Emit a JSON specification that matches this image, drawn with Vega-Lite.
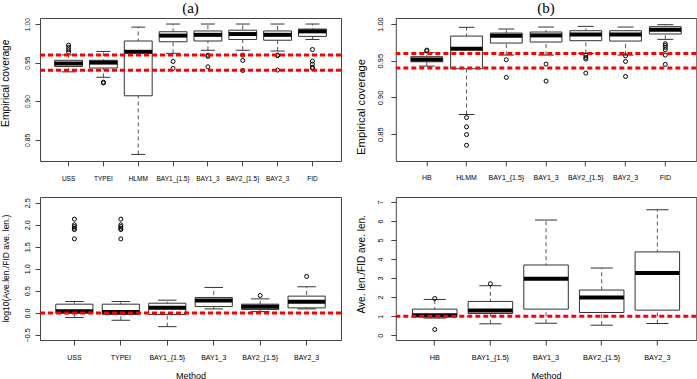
{
  "$schema": "https://vega.github.io/schema/vega-lite/v6.json",
  "background": "white",
  "padding": 0,
  "bounds": "flush",
  "columns": 2,
  "spacing": {"row": 36, "column": 54.8},
  "datasets": {
    "tl_box": [
      {"m": "USS", "lo": 0.938, "q1": 0.945, "med": 0.949, "q3": 0.953, "hi": 0.960},
      {"m": "TYPEI", "lo": 0.931, "q1": 0.943, "med": 0.950, "q3": 0.953, "hi": 0.9645},
      {"m": "HLMM", "lo": 0.831, "q1": 0.907, "med": 0.964, "q3": 0.978, "hi": 0.996},
      {"m": "BAY1_{1.5}", "lo": 0.962, "q1": 0.977, "med": 0.985, "q3": 0.990, "hi": 1.0},
      {"m": "BAY1_3", "lo": 0.966, "q1": 0.978, "med": 0.986, "q3": 0.991, "hi": 1.0},
      {"m": "BAY2_{1.5}", "lo": 0.966, "q1": 0.980, "med": 0.987, "q3": 0.992, "hi": 1.0},
      {"m": "BAY2_3", "lo": 0.965, "q1": 0.979, "med": 0.986, "q3": 0.991, "hi": 1.0},
      {"m": "FID", "lo": 0.980, "q1": 0.984, "med": 0.9905, "q3": 0.9935, "hi": 1.0}
    ],
    "tl_out": [
      {"m": "USS", "v": 0.9727}, {"m": "USS", "v": 0.9697}, {"m": "USS", "v": 0.9667}, {"m": "USS", "v": 0.9636},
      {"m": "TYPEI", "v": 0.9247}, {"m": "TYPEI", "v": 0.9235},
      {"m": "BAY1_{1.5}", "v": 0.9515}, {"m": "BAY1_{1.5}", "v": 0.9424},
      {"m": "BAY1_3", "v": 0.9597}, {"m": "BAY1_3", "v": 0.958}, {"m": "BAY1_3", "v": 0.9446},
      {"m": "BAY2_{1.5}", "v": 0.9597}, {"m": "BAY2_{1.5}", "v": 0.9528}, {"m": "BAY2_{1.5}", "v": 0.9398},
      {"m": "BAY2_3", "v": 0.9597}, {"m": "BAY2_3", "v": 0.959}, {"m": "BAY2_3", "v": 0.9403},
      {"m": "FID", "v": 0.967}, {"m": "FID", "v": 0.952}, {"m": "FID", "v": 0.948}, {"m": "FID", "v": 0.944}, {"m": "FID", "v": 0.9425}
    ],
    "tr_box": [
      {"m": "HB", "lo": 0.9427, "q1": 0.9486, "med": 0.9518, "q3": 0.9555, "hi": 0.961},
      {"m": "HLMM", "lo": 0.8768, "q1": 0.9391, "med": 0.9664, "q3": 0.9836, "hi": 0.9955},
      {"m": "BAY1_{1.5}", "lo": 0.9577, "q1": 0.9741, "med": 0.9841, "q3": 0.9877, "hi": 0.9932},
      {"m": "BAY1_3", "lo": 0.9577, "q1": 0.9755, "med": 0.9845, "q3": 0.9891, "hi": 0.9959},
      {"m": "BAY2_{1.5}", "lo": 0.96, "q1": 0.9773, "med": 0.9859, "q3": 0.9909, "hi": 0.9968},
      {"m": "BAY2_3", "lo": 0.9577, "q1": 0.9768, "med": 0.9859, "q3": 0.9909, "hi": 0.9959},
      {"m": "FID", "lo": 0.9791, "q1": 0.9864, "med": 0.9923, "q3": 0.9964, "hi": 0.9991}
    ],
    "tr_out": [
      {"m": "HB", "v": 0.9645}, {"m": "HB", "v": 0.9635},
      {"m": "HLMM", "v": 0.8727}, {"m": "HLMM", "v": 0.86}, {"m": "HLMM", "v": 0.8495}, {"m": "HLMM", "v": 0.835},
      {"m": "BAY1_{1.5}", "v": 0.9514}, {"m": "BAY1_{1.5}", "v": 0.9273},
      {"m": "BAY1_3", "v": 0.9455}, {"m": "BAY1_3", "v": 0.9223},
      {"m": "BAY2_{1.5}", "v": 0.9577}, {"m": "BAY2_{1.5}", "v": 0.9545}, {"m": "BAY2_{1.5}", "v": 0.9523}, {"m": "BAY2_{1.5}", "v": 0.9332},
      {"m": "BAY2_3", "v": 0.9568}, {"m": "BAY2_3", "v": 0.949}, {"m": "BAY2_3", "v": 0.9286},
      {"m": "FID", "v": 0.9732}, {"m": "FID", "v": 0.9709}, {"m": "FID", "v": 0.9682}, {"m": "FID", "v": 0.965}, {"m": "FID", "v": 0.9577}, {"m": "FID", "v": 0.945}
    ],
    "bl_box": [
      {"m": "USS", "lo": -0.106, "q1": -0.008, "med": 0.04, "q3": 0.198, "hi": 0.258},
      {"m": "TYPEI", "lo": -0.167, "q1": -0.038, "med": 0.02, "q3": 0.198, "hi": 0.258},
      {"m": "BAY1_{1.5}", "lo": -0.312, "q1": -0.038, "med": 0.114, "q3": 0.22, "hi": 0.289},
      {"m": "BAY1_3", "lo": 0.091, "q1": 0.144, "med": 0.281, "q3": 0.35, "hi": 0.578},
      {"m": "BAY2_{1.5}", "lo": 0.03, "q1": 0.076, "med": 0.137, "q3": 0.198, "hi": 0.319},
      {"m": "BAY2_3", "lo": 0.091, "q1": 0.114, "med": 0.251, "q3": 0.38, "hi": 0.593}
    ],
    "bl_out": [
      {"m": "USS", "v": 2.128}, {"m": "USS", "v": 2.0}, {"m": "USS", "v": 1.96}, {"m": "USS", "v": 1.92}, {"m": "USS", "v": 1.89}, {"m": "USS", "v": 1.68},
      {"m": "TYPEI", "v": 2.128}, {"m": "TYPEI", "v": 2.0}, {"m": "TYPEI", "v": 1.96}, {"m": "TYPEI", "v": 1.92}, {"m": "TYPEI", "v": 1.89}, {"m": "TYPEI", "v": 1.68},
      {"m": "BAY2_{1.5}", "v": 0.395},
      {"m": "BAY2_3", "v": 0.828}
    ],
    "br_box": [
      {"m": "HB", "lo": 0.9, "q1": 0.967, "med": 1.05, "q3": 1.371, "hi": 1.88},
      {"m": "BAY1_{1.5}", "lo": 0.6, "q1": 1.142, "med": 1.3, "q3": 1.775, "hi": 2.6},
      {"m": "BAY1_3", "lo": 0.63, "q1": 1.371, "med": 2.97, "q3": 3.69, "hi": 6.05},
      {"m": "BAY2_{1.5}", "lo": 0.527, "q1": 1.195, "med": 1.986, "q3": 2.373, "hi": 3.53},
      {"m": "BAY2_3", "lo": 0.615, "q1": 1.318, "med": 3.27, "q3": 4.376, "hi": 6.59}
    ],
    "br_out": [
      {"m": "HB", "v": 1.93}, {"m": "HB", "v": 0.3},
      {"m": "BAY1_{1.5}", "v": 2.706}
    ]
  },
  "concat": [
    {
      "width": 301, "height": 143,
      "title": {"text": "(a)", "offset": 1},
      "resolve": {"axis": {"y": "independent"}},
      "encoding": {
        "x": {"field": "m", "type": "nominal",
          "scale": {"type": "band", "domain": ["USS", "TYPEI", "HLMM", "BAY1_{1.5}", "BAY1_3", "BAY2_{1.5}", "BAY2_3", "FID"], "paddingInner": 0, "paddingOuter": 0.32},
          "axis": {"title": null, "labelAngle": 0, "labelFontSize": 6.5, "labelPadding": 12, "labelBaseline": "middle", "labelOverlap": false, "labelLimit": 0}}
      },
      "layer": [
        {"data": {"name": "tl_box"}, "mark": {"type": "rule", "color": "#555", "strokeDash": [4, 3], "strokeWidth": 1},
          "encoding": {"y": {"field": "lo", "type": "quantitative",
            "scale": {"domain": [0.8225, 1.0078], "nice": false, "zero": false},
            "axis": {"title": "Empirical coverage", "values": [0.85, 0.9, 0.95, 1.0], "format": ".2f", "labelAngle": 270, "labelAlign": "center", "labelBaseline": "middle", "labelPadding": 7.7, "labelFontSize": 6.8, "titleFontSize": 10.3, "titleX": -34.2, "titleY": 64.7, "titleAngle": 270, "titleAlign": "center", "titleBaseline": "middle"}},
            "y2": {"field": "hi"}}},
        {"data": {"name": "tl_box"}, "mark": {"type": "tick", "color": "#333", "size": 14, "thickness": 1, "opacity": 1},
          "encoding": {"y": {"field": "lo", "type": "quantitative", "axis": null}}},
        {"data": {"name": "tl_box"}, "mark": {"type": "tick", "color": "#333", "size": 14, "thickness": 1, "opacity": 1},
          "encoding": {"y": {"field": "hi", "type": "quantitative", "axis": null}}},
        {"data": {"name": "tl_box"}, "mark": {"type": "bar", "width": {"band": 0.8}, "fill": "white", "stroke": "#333", "strokeWidth": 1},
          "encoding": {"y": {"field": "q1", "type": "quantitative", "axis": null}, "y2": {"field": "q3"}}},
        {"data": {"name": "tl_box"}, "mark": {"type": "tick", "color": "black", "size": 27.9, "thickness": 4, "opacity": 1},
          "encoding": {"y": {"field": "med", "type": "quantitative", "axis": null}}},
        {"data": {"name": "tl_out"}, "mark": {"type": "point", "shape": "circle", "filled": false, "color": "black", "size": 16, "strokeWidth": 1, "opacity": 1},
          "encoding": {"y": {"field": "v", "type": "quantitative", "axis": null}}},
        {"data": {"values": [{"v": 0.94}, {"v": 0.96}]}, "mark": {"type": "rule", "color": "#ff0000", "strokeDash": [5, 3], "strokeWidth": 3},
          "encoding": {"x": null, "y": {"field": "v", "type": "quantitative", "axis": null}}}
      ]
    },
    {
      "width": 300.5, "height": 143,
      "title": {"text": "(b)", "offset": 1},
      "resolve": {"axis": {"y": "independent"}},
      "encoding": {
        "x": {"field": "m", "type": "nominal",
          "scale": {"type": "band", "domain": ["HB", "HLMM", "BAY1_{1.5}", "BAY1_3", "BAY2_{1.5}", "BAY2_3", "FID"], "paddingInner": 0, "paddingOuter": 0.28},
          "axis": {"title": null, "labelAngle": 0, "labelFontSize": 7, "labelPadding": 11.7, "labelBaseline": "middle", "labelOverlap": false, "labelLimit": 0}}
      },
      "layer": [
        {"data": {"name": "tr_box"}, "mark": {"type": "rule", "color": "#555", "strokeDash": [4, 3], "strokeWidth": 1},
          "encoding": {"y": {"field": "lo", "type": "quantitative",
            "scale": {"domain": [0.8135, 1.0082], "nice": false, "zero": false},
            "axis": {"title": "Empirical coverage", "values": [0.85, 0.9, 0.95, 1.0], "format": ".2f", "labelAngle": 270, "labelAlign": "center", "labelBaseline": "middle", "labelPadding": 10.8, "labelFontSize": 7.5, "titleFontSize": 11.3, "titleX": -34.7, "titleY": 88.5, "titleAngle": 270, "titleAlign": "center", "titleBaseline": "middle"}},
            "y2": {"field": "hi"}}},
        {"data": {"name": "tr_box"}, "mark": {"type": "tick", "color": "#333", "size": 15.9, "thickness": 1, "opacity": 1},
          "encoding": {"y": {"field": "lo", "type": "quantitative", "axis": null}}},
        {"data": {"name": "tr_box"}, "mark": {"type": "tick", "color": "#333", "size": 15.9, "thickness": 1, "opacity": 1},
          "encoding": {"y": {"field": "hi", "type": "quantitative", "axis": null}}},
        {"data": {"name": "tr_box"}, "mark": {"type": "bar", "width": {"band": 0.8}, "fill": "white", "stroke": "#333", "strokeWidth": 1},
          "encoding": {"y": {"field": "q1", "type": "quantitative", "axis": null}, "y2": {"field": "q3"}}},
        {"data": {"name": "tr_box"}, "mark": {"type": "tick", "color": "black", "size": 31.8, "thickness": 4, "opacity": 1},
          "encoding": {"y": {"field": "med", "type": "quantitative", "axis": null}}},
        {"data": {"name": "tr_out"}, "mark": {"type": "point", "shape": "circle", "filled": false, "color": "black", "size": 16, "strokeWidth": 1, "opacity": 1},
          "encoding": {"y": {"field": "v", "type": "quantitative", "axis": null}}},
        {"data": {"values": [{"v": 0.94}, {"v": 0.96}]}, "mark": {"type": "rule", "color": "#ff0000", "strokeDash": [5, 3], "strokeWidth": 3},
          "encoding": {"x": null, "y": {"field": "v", "type": "quantitative", "axis": null}}}
      ]
    },
    {
      "width": 301, "height": 143,
      "resolve": {"axis": {"y": "independent"}},
      "encoding": {
        "x": {"field": "m", "type": "nominal",
          "scale": {"type": "band", "domain": ["USS", "TYPEI", "BAY1_{1.5}", "BAY1_3", "BAY2_{1.5}", "BAY2_3"], "paddingInner": 0, "paddingOuter": 0.24},
          "axis": {"title": "Method", "titleFontSize": 9, "titleY": 35, "titleBaseline": "middle", "labelAngle": 0, "labelFontSize": 7, "labelPadding": 12, "labelBaseline": "middle", "labelOverlap": false, "labelLimit": 0}}
      },
      "layer": [
        {"data": {"name": "bl_box"}, "mark": {"type": "rule", "color": "#555", "strokeDash": [4, 3], "strokeWidth": 1},
          "encoding": {"y": {"field": "lo", "type": "quantitative",
            "scale": {"domain": [-0.615, 2.63], "nice": false, "zero": false},
            "axis": {"title": "log10(Ave.len./FID ave. len.)", "values": [-0.5, 0, 0.5, 1, 1.5, 2, 2.5], "format": ".1f", "labelAngle": 270, "labelAlign": "center", "labelBaseline": "middle", "labelPadding": 8, "labelFontSize": 7.2, "titleFontSize": 8.5, "titleX": -34.7, "titleY": 71, "titleAngle": 270, "titleAlign": "center", "titleBaseline": "middle"}},
            "y2": {"field": "hi"}}},
        {"data": {"name": "bl_box"}, "mark": {"type": "tick", "color": "#333", "size": 18.6, "thickness": 1, "opacity": 1},
          "encoding": {"y": {"field": "lo", "type": "quantitative", "axis": null}}},
        {"data": {"name": "bl_box"}, "mark": {"type": "tick", "color": "#333", "size": 18.6, "thickness": 1, "opacity": 1},
          "encoding": {"y": {"field": "hi", "type": "quantitative", "axis": null}}},
        {"data": {"name": "bl_box"}, "mark": {"type": "bar", "width": {"band": 0.8}, "fill": "white", "stroke": "#333", "strokeWidth": 1},
          "encoding": {"y": {"field": "q1", "type": "quantitative", "axis": null}, "y2": {"field": "q3"}}},
        {"data": {"name": "bl_box"}, "mark": {"type": "tick", "color": "black", "size": 37.2, "thickness": 4, "opacity": 1},
          "encoding": {"y": {"field": "med", "type": "quantitative", "axis": null}}},
        {"data": {"name": "bl_out"}, "mark": {"type": "point", "shape": "circle", "filled": false, "color": "black", "size": 16, "strokeWidth": 1, "opacity": 1},
          "encoding": {"y": {"field": "v", "type": "quantitative", "axis": null}}},
        {"data": {"values": [{"v": 0}]}, "mark": {"type": "rule", "color": "#ff0000", "strokeDash": [5, 3], "strokeWidth": 3},
          "encoding": {"x": null, "y": {"field": "v", "type": "quantitative", "axis": null}}}
      ]
    },
    {
      "width": 300.5, "height": 143,
      "resolve": {"axis": {"y": "independent"}},
      "encoding": {
        "x": {"field": "m", "type": "nominal",
          "scale": {"type": "band", "domain": ["HB", "BAY1_{1.5}", "BAY1_3", "BAY2_{1.5}", "BAY2_3"], "paddingInner": 0, "paddingOuter": 0.2},
          "axis": {"title": "Method", "titleFontSize": 9, "titleY": 35, "titleBaseline": "middle", "labelAngle": 0, "labelFontSize": 7.3, "labelPadding": 12, "labelBaseline": "middle", "labelOverlap": false, "labelLimit": 0}}
      },
      "layer": [
        {"data": {"name": "br_box"}, "mark": {"type": "rule", "color": "#555", "strokeDash": [4, 3], "strokeWidth": 1},
          "encoding": {"y": {"field": "lo", "type": "quantitative",
            "scale": {"domain": [-0.25, 7.26], "nice": false, "zero": false},
            "axis": {"title": "Ave. len./FID ave. len.", "values": [0, 1, 2, 3, 4, 5, 6, 7], "format": "d", "labelAngle": 270, "labelAlign": "center", "labelBaseline": "middle", "labelPadding": 10, "labelFontSize": 7, "titleFontSize": 10, "titleX": -34.8, "titleY": 66.8, "titleAngle": 270, "titleAlign": "center", "titleBaseline": "middle"}},
            "y2": {"field": "hi"}}},
        {"data": {"name": "br_box"}, "mark": {"type": "tick", "color": "#333", "size": 22.2, "thickness": 1, "opacity": 1},
          "encoding": {"y": {"field": "lo", "type": "quantitative", "axis": null}}},
        {"data": {"name": "br_box"}, "mark": {"type": "tick", "color": "#333", "size": 22.2, "thickness": 1, "opacity": 1},
          "encoding": {"y": {"field": "hi", "type": "quantitative", "axis": null}}},
        {"data": {"name": "br_box"}, "mark": {"type": "bar", "width": {"band": 0.8}, "fill": "white", "stroke": "#333", "strokeWidth": 1},
          "encoding": {"y": {"field": "q1", "type": "quantitative", "axis": null}, "y2": {"field": "q3"}}},
        {"data": {"name": "br_box"}, "mark": {"type": "tick", "color": "black", "size": 44.4, "thickness": 4, "opacity": 1},
          "encoding": {"y": {"field": "med", "type": "quantitative", "axis": null}}},
        {"data": {"name": "br_out"}, "mark": {"type": "point", "shape": "circle", "filled": false, "color": "black", "size": 16, "strokeWidth": 1, "opacity": 1},
          "encoding": {"y": {"field": "v", "type": "quantitative", "axis": null}}},
        {"data": {"values": [{"v": 1}]}, "mark": {"type": "rule", "color": "#ff0000", "strokeDash": [5, 3], "strokeWidth": 3},
          "encoding": {"x": null, "y": {"field": "v", "type": "quantitative", "axis": null}}}
      ]
    }
  ],
  "config": {
    "view": {"stroke": "#444", "strokeWidth": 1},
    "axis": {"domain": false, "grid": false, "tickSize": 5, "tickColor": "#444", "labelColor": "#000", "titleColor": "#000", "labelFont": "Liberation Sans", "titleFont": "Liberation Sans", "titleFontWeight": "normal"},
    "title": {"font": "Liberation Serif", "fontSize": 15, "fontWeight": "normal", "anchor": "middle", "color": "#000"}
  }
}
